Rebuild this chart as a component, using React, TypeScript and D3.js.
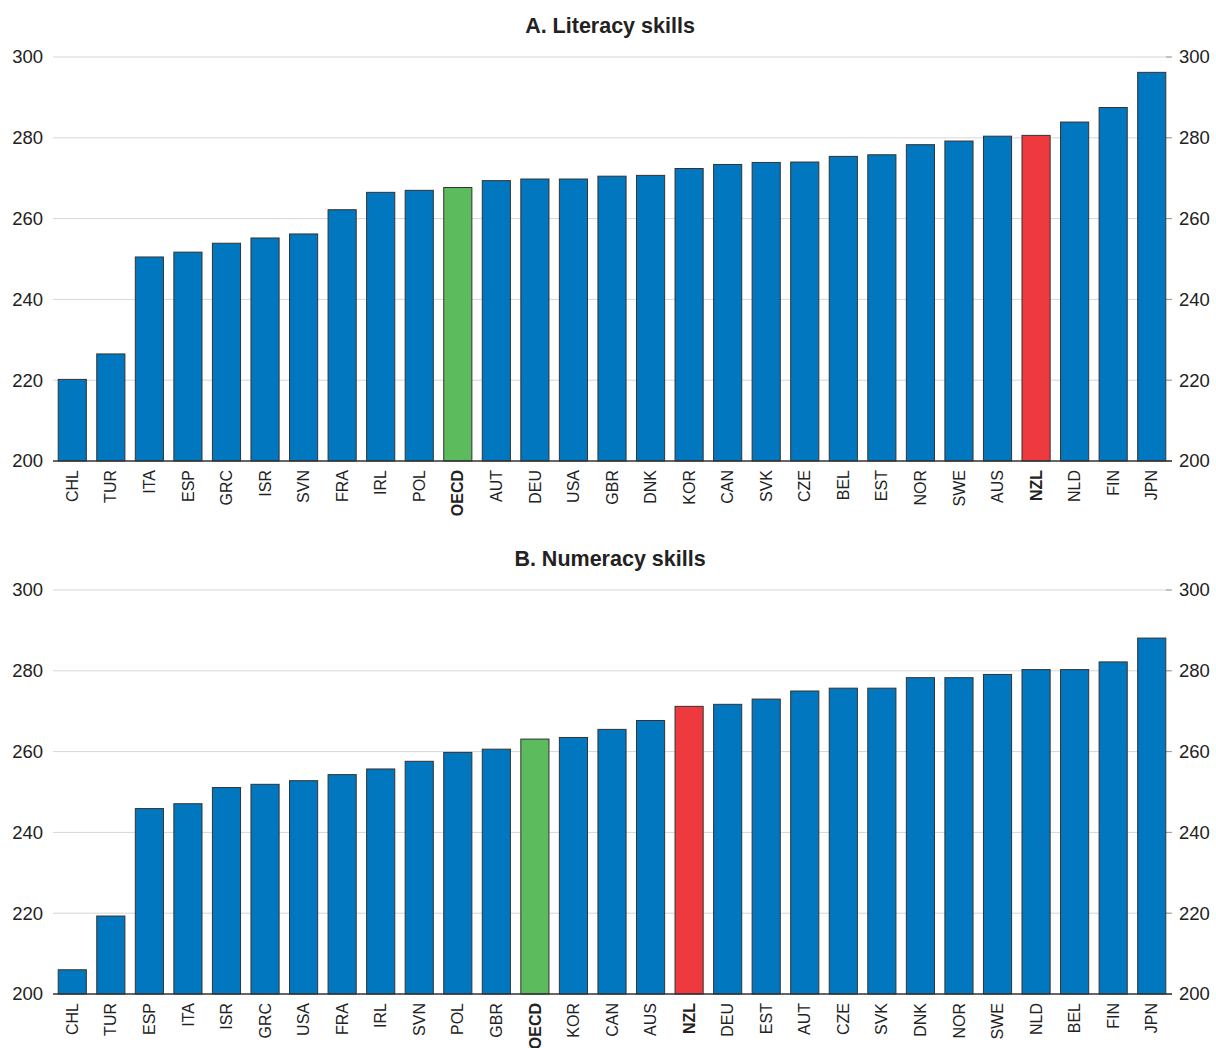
import React from "react";
import * as d3 from "d3";

const litCountries = ["CHL","TUR","ITA","ESP","GRC","ISR","SVN","FRA","IRL","POL","OECD","AUT","DEU","USA","GBR","DNK","KOR","CAN","SVK","CZE","BEL","EST","NOR","SWE","AUS","NZL","NLD","FIN","JPN"];
const litValues = [220.2,226.5,250.5,251.7,253.9,255.2,256.2,262.2,266.5,267.0,267.7,269.4,269.8,269.8,270.5,270.7,272.4,273.4,273.9,274.0,275.4,275.8,278.3,279.2,280.4,280.6,283.9,287.5,296.2];

const numCountries = ["CHL","TUR","ESP","ITA","ISR","GRC","USA","FRA","IRL","SVN","POL","GBR","OECD","KOR","CAN","AUS","NZL","DEU","EST","AUT","CZE","SVK","DNK","NOR","SWE","NLD","BEL","FIN","JPN"];
const numValues = [206.0,219.3,245.9,247.1,251.1,251.9,252.8,254.3,255.7,257.6,259.8,260.6,263.1,263.5,265.5,267.7,271.2,271.7,273.0,275.0,275.7,275.7,278.3,278.3,279.1,280.3,280.3,282.2,288.1];

const yTicks = [200,220,240,260,280,300];
const panelTitles = ["A. Literacy skills","B. Numeracy skills"];

const FONT = "'Liberation Sans', Arial, Helvetica, sans-serif";
const BLUE = "#0077be";
const GREEN = "#5cbb5c";
const RED = "#ee3a3e";

function Panel({ title, countries, values, top }: { title: string; countries: string[]; values: number[]; top: number }) {
  const x0 = 53, x1 = 1171;
  const yTop = top + 49, yBot = top + 453;
  const x = d3.scaleBand<string>().domain(countries).range([x0, x1]).paddingInner(0.27).paddingOuter(0.135);
  const y = d3.scaleLinear().domain([200, 300]).range([yBot, yTop]);
  const color = (c: string) => (c === "OECD" ? GREEN : c === "NZL" ? RED : BLUE);
  return (
    <g>
      <text x={610} y={top + 25} textAnchor="middle" fontFamily={FONT} fontWeight="bold" fontSize={21.5} fill="#222">{title}</text>
      {yTicks.map((t) => (
        <g key={t}>
          {t !== 200 && <line x1={x0} x2={x1} y1={y(t)} y2={y(t)} stroke="#d6d6d6" strokeWidth={1} />}
          <line x1={x1 - 5} x2={x1 + 1} y1={y(t)} y2={y(t)} stroke="#999" strokeWidth={1} />
          <text x={43} y={y(t)} dy="0.35em" textAnchor="end" fontFamily={FONT} fontSize={18.5} fill="#222">{t}</text>
          <text x={1179} y={y(t)} dy="0.35em" textAnchor="start" fontFamily={FONT} fontSize={18.5} fill="#222">{t}</text>
        </g>
      ))}
      {countries.map((c, i) => (
        <rect key={c} x={x(c)!} y={y(values[i])} width={x.bandwidth()} height={y(200) - y(values[i])} fill={color(c)} stroke="#333" strokeWidth={1} />
      ))}
      <line x1={x0} x2={x1 + 1} y1={y(200)} y2={y(200)} stroke="#333" strokeWidth={1.5} />
      {countries.map((c) => {
        const cx = x(c)! + x.bandwidth() / 2;
        const bold = c === "OECD" || c === "NZL";
        return (
          <text key={c} transform={`translate(${cx},${y(200) + 9}) rotate(-90)`} dy="0.35em" textAnchor="end" fontFamily={FONT} fontSize={16} fontWeight={bold ? "bold" : "normal"} fill="#222">{c}</text>
        );
      })}
    </g>
  );
}

export default function App() {
  return (
    <svg width={1216} height={1048} style={{ position: "absolute", left: 0, top: 0, background: "#fff" }}>
      <rect width={1216} height={1048} fill="#fff" />
      <Panel title={panelTitles[0]} countries={litCountries} values={litValues} top={8} />
      <Panel title={panelTitles[1]} countries={numCountries} values={numValues} top={541} />
    </svg>
  );
}
